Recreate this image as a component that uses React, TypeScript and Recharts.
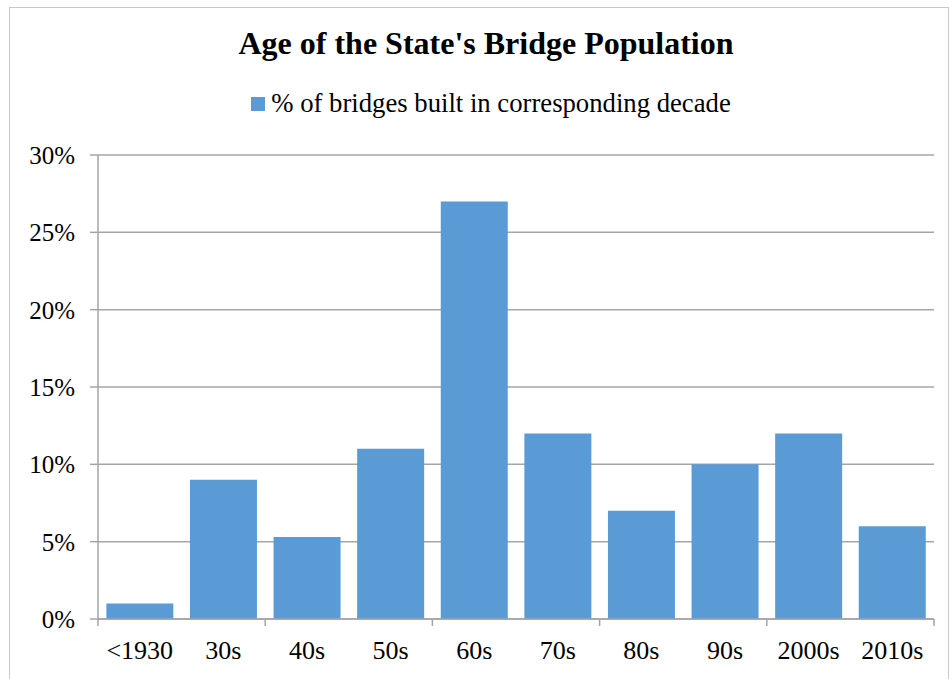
import React from 'react';
import { BarChart, Bar, XAxis, YAxis, CartesianGrid, Legend } from 'recharts';

// decades and share of bridges built in each (percent)
const decades = ['<1930', '30s', '40s', '50s', '60s', '70s', '80s', '90s', '2000s', '2010s'];
const pctBuilt = [1, 9, 5.3, 11, 27, 12, 7, 10, 12, 6];
const yTicks = [0, 5, 10, 15, 20, 25, 30];
const seriesName = '% of bridges built in corresponding decade';

const data = decades.map((d, i) => ({ decade: d, pct: pctBuilt[i] }));

const FONT = "'Liberation Serif', 'Times New Roman', serif";
const BAR = '#5b9bd5';
const AXIS = '#a5a5a5';

const W = 938;
const H = 671;
const M = { top: 120, right: 14, bottom: 0, left: 10 };
const Y_AXIS_W = 78;
const BAND = (W - M.left - Y_AXIS_W - M.right) / decades.length;

// x tick: label plus Excel-style tick marks every second category boundary
const XTick = (props: any) => {
  const { x, y, payload, index } = props;
  return (
    <g>
      {index % 2 === 0 && (
        <line x1={x - BAND / 2} x2={x - BAND / 2} y1={y} y2={y + 7} stroke={AXIS} strokeWidth={1.5} />
      )}
      {index === decades.length - 1 && (
        <line x1={x + BAND / 2} x2={x + BAND / 2} y1={y} y2={y + 7} stroke={AXIS} strokeWidth={1.5} />
      )}
      <text x={x} y={y + 22} dy="0.71em" textAnchor="middle" fill="#000" fontSize={26} fontFamily={FONT}>
        {payload.value}
      </text>
    </g>
  );
};

const LegendContent = () => (
  <div style={{ display: 'flex', justifyContent: 'center', alignItems: 'center', height: 27, paddingLeft: 24 }}>
    <span style={{ width: 14, height: 14, background: BAR, display: 'inline-block', marginRight: 6 }} />
    <span style={{ fontFamily: FONT, fontSize: 26.7, lineHeight: '27px', color: '#000' }}>{seriesName}</span>
  </div>
);

export default function App() {
  return (
    <div
      style={{
        position: 'absolute',
        left: 9,
        top: 7,
        width: W,
        height: 700,
        border: '1px solid #c8c8c8',
        background: '#fff',
      }}
    >
      <div
        style={{
          position: 'absolute',
          top: 19,
          left: 0,
          width: 952,
          textAlign: 'center',
          fontFamily: FONT,
          fontWeight: 'bold',
          fontSize: 32,
          lineHeight: '32px',
          color: '#000',
        }}
      >
        Age of the State's Bridge Population
      </div>
      <BarChart width={W} height={H} data={data} margin={M} barCategoryGap="10%">
        <CartesianGrid vertical={false} stroke={AXIS} strokeWidth={1.5} />
        <Legend
          verticalAlign="top"
          content={<LegendContent />}
          wrapperStyle={{ top: 82, left: 0, width: W }}
        />
        <XAxis
          dataKey="decade"
          height={60}
          axisLine={{ stroke: AXIS, strokeWidth: 1.5 }}
          tickLine={false}
          tickSize={0}
          tickMargin={0}
          interval={0}
          tick={<XTick />}
        />
        <YAxis
          width={Y_AXIS_W}
          domain={[0, 30]}
          ticks={yTicks}
          interval={0}
          tickFormatter={(v: number) => `${v}%`}
          axisLine={{ stroke: AXIS, strokeWidth: 1.5 }}
          tickLine={{ stroke: AXIS, strokeWidth: 1.5 }}
          tickSize={8}
          tickMargin={15}
          tick={{ fill: '#000', fontSize: 25, fontFamily: FONT }}
        />
        <Bar dataKey="pct" name={seriesName} fill={BAR} isAnimationActive={false} />
      </BarChart>
    </div>
  );
}
